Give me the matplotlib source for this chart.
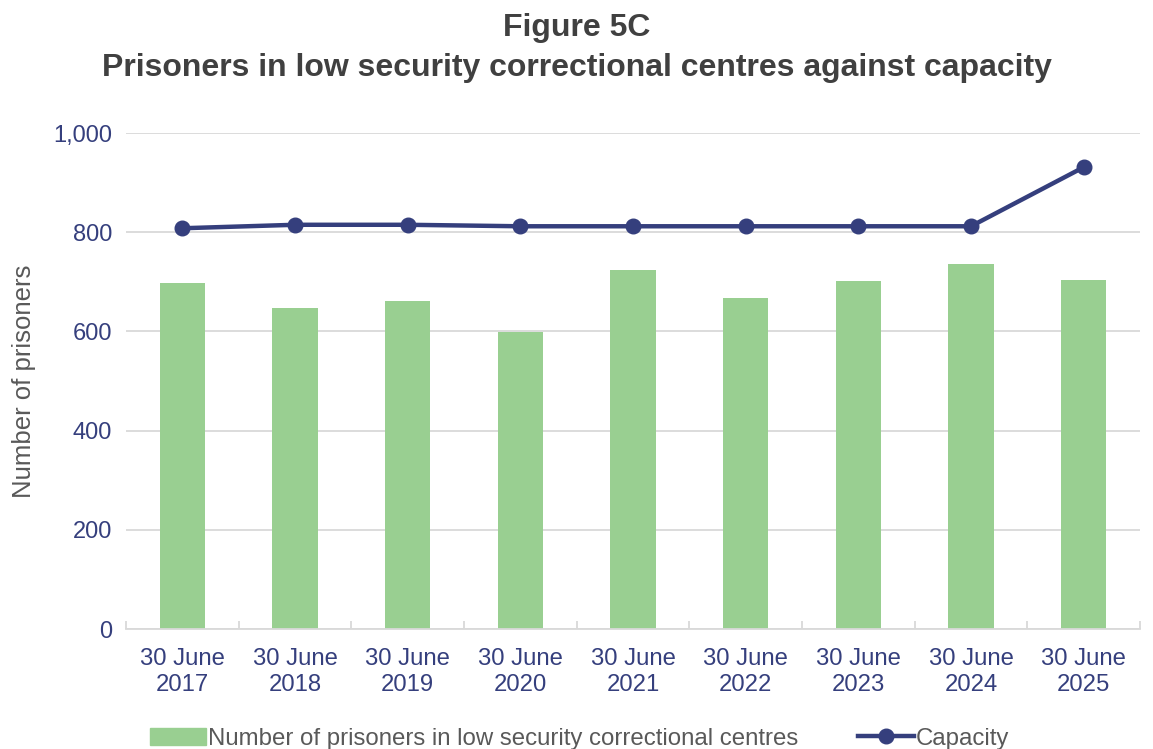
import matplotlib.pyplot as plt
import numpy as np
from matplotlib.lines import Line2D
from matplotlib.patches import Patch

plt.rcParams['font.family'] = ['Liberation Sans', 'DejaVu Sans']

# data
dates = ['30 June\n2017', '30 June\n2018', '30 June\n2019', '30 June\n2020', '30 June\n2021',
         '30 June\n2022', '30 June\n2023', '30 June\n2024', '30 June\n2025']
prisoners = [698, 647, 662, 599, 724, 668, 702, 735, 704]
capacity = [808, 815, 815, 812, 812, 812, 812, 812, 931]

green = '#99CF91'
navy = '#353F7D'
grid_col = '#D9D9D9'
text_gray = '#595959'

fig = plt.figure(figsize=(11.53, 7.49), dpi=100)
ax = fig.add_axes([0.1093, 0.1602, 0.8794, 0.6622])

x = np.arange(len(dates))
ax.bar(x, prisoners, width=0.4, color=green, zorder=2)
ax.plot(x, capacity, color=navy, lw=3.2, marker='o', ms=10.5, zorder=3)

ax.set_xlim(-0.5, len(dates) - 0.5)
ax.set_ylim(0, 1000)
ax.set_yticks(range(0, 1001, 200))
ax.set_yticklabels([f'{v:,}' for v in range(0, 1001, 200)])
ax.yaxis.grid(True, color=grid_col, lw=1.3, zorder=0)
ax.tick_params(axis='y', length=0, labelsize=17, labelcolor=navy, pad=10)

ax.set_xticks(x)
ax.set_xticklabels(dates)
ax.set_xticks(np.arange(-0.5, len(dates), 1), minor=True)
ax.tick_params(axis='x', which='both', direction='in', length=6, color=grid_col, width=1.3)
ax.tick_params(axis='x', which='major', labelsize=17.2, labelcolor=navy, pad=14)

for s in ['top', 'right', 'left']:
    ax.spines[s].set_visible(False)
ax.spines['bottom'].set_color(grid_col)
ax.spines['bottom'].set_linewidth(1.3)

ax.set_ylabel('Number of prisoners', fontsize=18.5, color=text_gray, labelpad=12)

fig.text(0.5, 0.962, 'Figure 5C', ha='center', va='center', fontsize=23,
         fontweight='bold', color='#404040')
fig.text(0.5, 0.909, 'Prisoners in low security correctional centres against capacity',
         ha='center', va='center', fontsize=23, fontweight='bold', color='#404040')

handles = [Patch(color=green, label='Number of prisoners in low security correctional centres'),
           Line2D([], [], color=navy, lw=3.2, marker='o', ms=10.5, label='Capacity')]
fig.legend(handles=handles, loc='center', bbox_to_anchor=(0.503, 0.014), ncol=2, frameon=False,
           fontsize=17.3, labelcolor=text_gray, handlelength=2.3, handletextpad=0.1,
           columnspacing=2.5)

fig.savefig('out.png', dpi=100)
